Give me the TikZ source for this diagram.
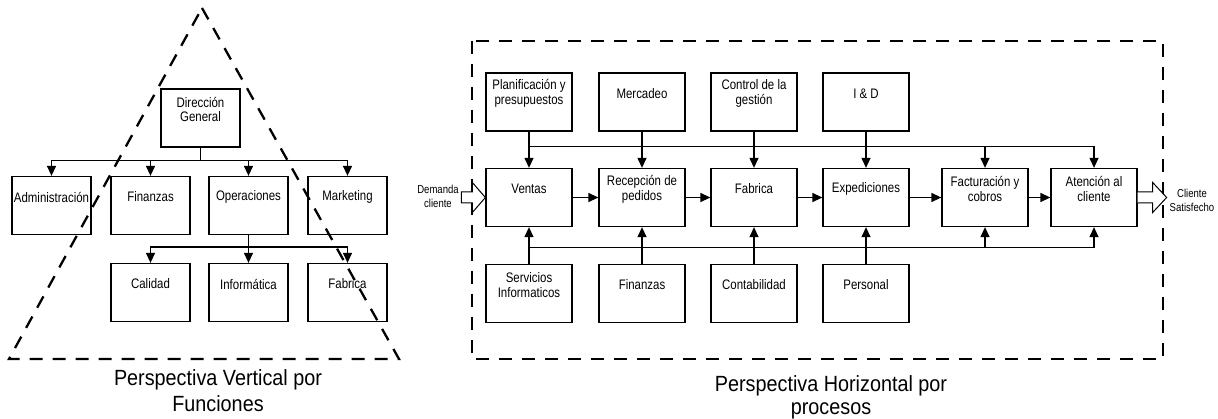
\documentclass[tikz,border=0pt]{standalone}
\usepackage{fontspec}
\setmainfont{Liberation Sans}
\newfontfamily\boxfont[FakeStretch=0.83]{Liberation Sans}
\newfontfamily\capfont[FakeStretch=0.9]{Liberation Sans}
\usetikzlibrary{arrows.meta}
\begin{document}
\begin{tikzpicture}[x=1pt,y=-1pt,
  box/.style={draw,line width=1.3pt,inner sep=0pt,minimum width=79pt,minimum height=58pt},
  pbox/.style={box,minimum width=86pt},
  txt/.style={inner sep=0pt,align=center,yshift=8.5pt,font=\boxfont\fontsize{13.8}{14.8}\selectfont},
  small/.style={inner sep=0pt,align=center,font=\boxfont\fontsize{11.5}{14}\selectfont},
  caption/.style={inner sep=0pt,align=center},
  conn/.style={line width=1.3pt},
  arr/.style={conn,-{Triangle[length=10pt,width=9pt]}},
  perim/.style={line width=2.3pt,dash pattern=on 13pt off 10pt},
  hollow/.style={draw,fill=white,line width=1pt,line join=miter}]
\useasboundingbox (0,0) rectangle (1218,419);

% ---------- vertical organisation by functions ----------
\node[box] (dg)  at (200.5,118) {};
\node[txt] at (dg.center) {Dirección\\General};
\node[box] (adm) at (51.5,205.5) {};
\node[txt] at (adm.center) {Administración};
\node[box] (fin) at (150.5,205.5) {};
\node[txt] at (fin.center) {Finanzas};
\node[box] (ope) at (248.5,205.5) {};
\node[txt] at (ope.center) {Operaciones};
\node[box] (mkt) at (347.5,205.5) {};
\node[txt] at (mkt.center) {Marketing};
\node[box] (cal) at (150.5,292.5) {};
\node[txt] at (cal.center) {Calidad};
\node[box] (inf) at (248.5,292.5) {};
\node[txt] at (inf.center) {Informática};
\node[box] (fab) at (347.5,292.5) {};
\node[txt] at (fab.center) {Fabrica};

\foreach \t in {adm,fin,ope,mkt}
  \draw[arr] (dg.south) -- ++(0,13) -| (\t.north);
\foreach \t in {cal,inf,fab}
  \draw[arr] (ope.south) -- ++(0,12) -| (\t.north);

\draw[perim] (202,8) -- (399,359) -- (9,359) -- cycle;
\node[caption,font=\capfont\fontsize{22}{26}\selectfont] (capv) at (218,391)
  {Perspectiva Vertical por\\Funciones};

% ---------- horizontal organisation by processes ----------
\draw[perim] (472,41) rectangle (1163,359);

\node[pbox] (pla) at (529,102) {};
\node[txt] at (pla.center) {Planificación y\\presupuestos};
\node[pbox] (mer) at (642,102) {};
\node[txt] at (mer.center) {Mercadeo};
\node[pbox] (ctl) at (754,102) {};
\node[txt] at (ctl.center) {Control de la\\gestión};
\node[pbox] (iyd) at (866,102) {};
\node[txt] at (iyd.center) {I \& D};

\node[pbox] (ven) at (529,197.5) {};
\node[txt] at (ven.center) {Ventas};
\node[pbox] (rec) at (642,197.5) {};
\node[txt] at (rec.center) {Recepción de\\pedidos};
\node[pbox] (pfa) at (754,197.5) {};
\node[txt] at (pfa.center) {Fabrica};
\node[pbox] (exp) at (866,197.5) {};
\node[txt] at (exp.center) {Expediciones};
\node[pbox] (fac) at (985,197.5) {};
\node[txt] at (fac.center) {Facturación y\\cobros};
\node[pbox] (ate) at (1094,197.5) {};
\node[txt] at (ate.center) {Atención al\\cliente};

\node[pbox] (ser) at (529,293.5) {};
\node[txt] at (ser.center) {Servicios\\Informaticos};
\node[pbox] (pfi) at (642,293.5) {};
\node[txt] at (pfi.center) {Finanzas};
\node[pbox] (con) at (754,293.5) {};
\node[txt] at (con.center) {Contabilidad};
\node[pbox] (per) at (866,293.5) {};
\node[txt] at (per.center) {Personal};

% support functions feeding the process chain
\draw[arr] (pla.south) -- (ven.north);
\draw[arr] (mer.south) -- (rec.north);
\draw[arr] (ctl.south) -- (pfa.north);
\draw[arr] (iyd.south) -- (exp.north);
\draw[arr] (pla.south) -- ++(0,15) -| (fac.north);
\draw[arr] (pla.south) -- ++(0,15) -| (ate.north);

\draw[arr] (ser.north) -- (ven.south);
\draw[arr] (pfi.north) -- (rec.south);
\draw[arr] (con.north) -- (pfa.south);
\draw[arr] (per.north) -- (exp.south);
\draw[arr] (ser.north) -- ++(0,-16) -| (fac.south);
\draw[arr] (ser.north) -- ++(0,-16) -| (ate.south);

% the process chain
\draw[arr] (ven.east) -- (rec.west);
\draw[arr] (rec.east) -- (pfa.west);
\draw[arr] (pfa.east) -- (exp.west);
\draw[arr] (exp.east) -- (fac.west);
\draw[arr] (fac.east) -- (ate.west);

% input and output
\draw[hollow] (ven.west) -- ++(-13,-15) -- ++(0,9.5) -- ++(-11,0) -- ++(0,11)
  -- ++(11,0) -- ++(0,9.5) -- cycle;
\draw[hollow] (ate.east) ++(0,-5.5) -- ++(15,0) -- ++(0,-9.5) -- ++(14,15)
  -- ++(-14,15) -- ++(0,-9.5) -- ++(-15,0);
\node[small] (dem) at (438,196) {Demanda\\cliente};
\node[small] (sat) at (1192,200) {Cliente\\Satisfecho};

\node[caption,font=\capfont\fontsize{22}{23}\selectfont] (caph) at (831,397.5)
  {Perspectiva Horizontal por\\procesos};
\end{tikzpicture}
\end{document}
